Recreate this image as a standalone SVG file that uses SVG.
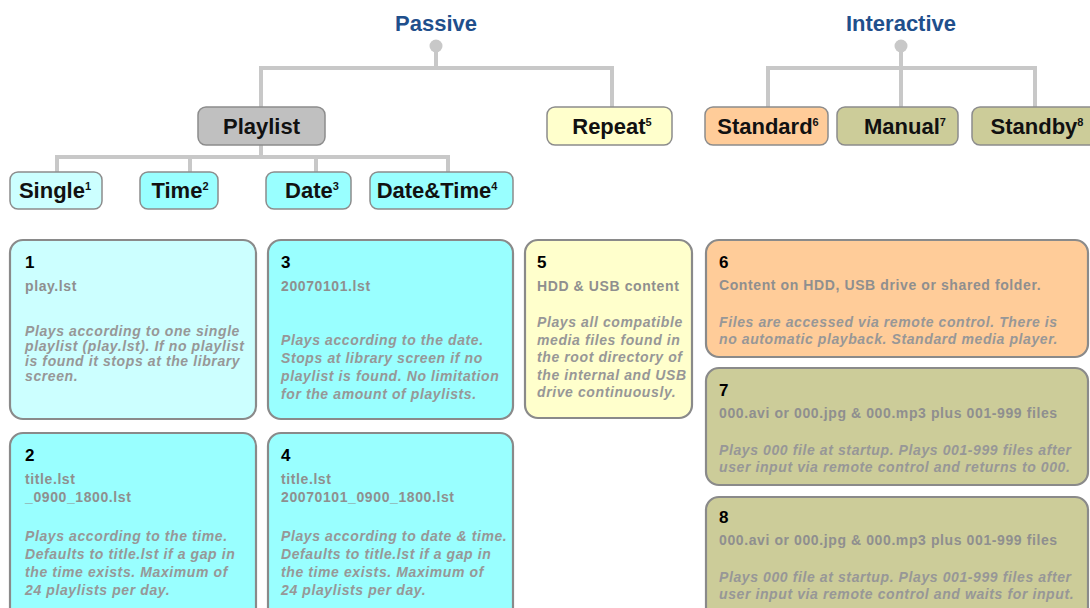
<svg xmlns="http://www.w3.org/2000/svg" width="1090" height="608" viewBox="0 0 1090 608">
<style>
.bg{fill:#ffffff}
.title{font-family:"Liberation Sans",Arial,sans-serif;font-weight:bold;font-size:22px;fill:#1f4f8c;text-anchor:middle}
.lbl{font-family:"Liberation Sans",Arial,sans-serif;font-weight:bold;font-size:22px;fill:#111111;text-anchor:middle}
.sup{font-size:11px}
.conn{stroke:#c8c8c8;stroke-width:4;fill:none}
.dot{fill:#c8c8c8}
.sb{stroke:#8c8c8c;stroke-width:1.5}
.bb{stroke:#8a8a8a;stroke-width:2.2}
.gray{fill:#c0c0c0}
.lc{fill:#ccffff}
.cy{fill:#99ffff}
.ye{fill:#ffffcc}
.or{fill:#ffcc99}
.ol{fill:#cccc99}
.num{font-family:"Liberation Sans",Arial,sans-serif;font-weight:bold;font-size:17px;fill:#000000}
.sub{font-family:"Liberation Sans",Arial,sans-serif;font-weight:bold;font-size:14px;letter-spacing:0.6px;fill:#8f8f8f}
.desc{font-family:"Liberation Sans",Arial,sans-serif;font-weight:bold;font-style:italic;font-size:14px;letter-spacing:0.6px;fill:#979797}
</style>
<rect class="bg" x="0" y="0" width="1090" height="608"/>

<g id="connectors">
  <path class="conn" d="M436,46 V68 M261,68 H612 M261,66 V107 M612,66 V107"/>
  <path class="conn" d="M261,145 V157 M57,157 H448 M57,155 V172 M190,155 V172 M316,155 V172 M448,155 V172"/>
  <path class="conn" d="M901,46 V107 M768,68 H1035 M768,66 V107 M1035,66 V107"/>
  <circle class="dot" cx="436" cy="46" r="6.5"/>
  <circle class="dot" cx="901" cy="46" r="6.5"/>
</g>

<g id="passive"><text class="title" x="436" y="31">Passive</text></g>
<g id="interactive"><text class="title" x="901" y="31">Interactive</text></g>

<g id="playlist"><rect class="gray sb" x="198" y="107" width="127" height="38" rx="8"/><text class="lbl" x="261.5" y="134">Playlist</text></g>
<g id="repeat"><rect class="ye sb" x="547" y="107" width="125" height="38" rx="8"/><text class="lbl" x="612" y="134">Repeat<tspan class="sup" dy="-8">5</tspan></text></g>
<g id="standard"><rect class="or sb" x="705" y="107" width="123" height="38" rx="8"/><text class="lbl" x="768" y="134">Standard<tspan class="sup" dy="-8">6</tspan></text></g>
<g id="manual"><rect class="ol sb" x="837" y="107" width="121" height="38" rx="8"/><text class="lbl" x="905" y="134">Manual<tspan class="sup" dy="-8">7</tspan></text></g>
<g id="standby"><rect class="ol sb" x="972" y="107" width="125" height="38" rx="8"/><text class="lbl" x="1037" y="134">Standby<tspan class="sup" dy="-8">8</tspan></text></g>

<g id="single"><rect class="lc sb" x="10" y="172" width="92" height="37" rx="8"/><text class="lbl" x="55" y="198">Single<tspan class="sup" dy="-8">1</tspan></text></g>
<g id="time"><rect class="cy sb" x="140" y="172" width="78" height="37" rx="8"/><text class="lbl" x="180" y="198">Time<tspan class="sup" dy="-8">2</tspan></text></g>
<g id="date"><rect class="cy sb" x="266" y="172" width="85" height="37" rx="8"/><text class="lbl" x="312" y="198">Date<tspan class="sup" dy="-8">3</tspan></text></g>
<g id="datetime"><rect class="cy sb" x="370" y="172" width="143" height="37" rx="8"/><text class="lbl" x="437" y="198">Date&amp;Time<tspan class="sup" dy="-8">4</tspan></text></g>

<g id="box1">
  <rect class="lc bb" x="10" y="240" width="246" height="179" rx="13"/>
  <text class="num" x="25" y="268">1</text>
  <text class="sub" x="25" y="291">play.lst</text>
  <text class="desc" x="25" y="336">Plays according to one single</text>
  <text class="desc" x="25" y="351">playlist (play.lst). If no playlist</text>
  <text class="desc" x="25" y="366">is found it stops at the library</text>
  <text class="desc" x="25" y="381">screen.</text>
</g>

<g id="box3">
  <rect class="cy bb" x="268" y="240" width="245" height="179" rx="13"/>
  <text class="num" x="281" y="268">3</text>
  <text class="sub" x="281" y="291">20070101.lst</text>
  <text class="desc" x="281" y="345">Plays according to the date.</text>
  <text class="desc" x="281" y="363">Stops at library screen if no</text>
  <text class="desc" x="281" y="381">playlist is found. No limitation</text>
  <text class="desc" x="281" y="399">for the amount of playlists.</text>
</g>

<g id="box5">
  <rect class="ye bb" x="525" y="240" width="167" height="178" rx="13"/>
  <text class="num" x="537" y="268">5</text>
  <text class="sub" x="537" y="291">HDD &amp; USB content</text>
  <text class="desc" x="537" y="327">Plays all compatible</text>
  <text class="desc" x="537" y="344.5">media files found in</text>
  <text class="desc" x="537" y="362">the root directory of</text>
  <text class="desc" x="537" y="379.5">the internal and USB</text>
  <text class="desc" x="537" y="397">drive continuously.</text>
</g>

<g id="box6">
  <rect class="or bb" x="706" y="240" width="382" height="117" rx="13"/>
  <text class="num" x="719" y="268">6</text>
  <text class="sub" x="719" y="290">Content on HDD, USB drive or shared folder.</text>
  <text class="desc" x="719" y="327">Files are accessed via remote control. There is</text>
  <text class="desc" x="719" y="344">no automatic playback. Standard media player.</text>
</g>

<g id="box7">
  <rect class="ol bb" x="706" y="368" width="382" height="117" rx="13"/>
  <text class="num" x="719" y="396">7</text>
  <text class="sub" x="719" y="418">000.avi or 000.jpg &amp; 000.mp3 plus 001-999 files</text>
  <text class="desc" x="719" y="455">Plays 000 file at startup. Plays 001-999 files after</text>
  <text class="desc" x="719" y="472">user input via remote control and returns to 000.</text>
</g>

<g id="box8">
  <rect class="ol bb" x="706" y="497" width="382" height="125" rx="13"/>
  <text class="num" x="719" y="523">8</text>
  <text class="sub" x="719" y="545">000.avi or 000.jpg &amp; 000.mp3 plus 001-999 files</text>
  <text class="desc" x="719" y="582">Plays 000 file at startup. Plays 001-999 files after</text>
  <text class="desc" x="719" y="599">user input via remote control and waits for input.</text>
</g>

<g id="box2">
  <rect class="cy bb" x="10" y="433" width="246" height="190" rx="13"/>
  <text class="num" x="25" y="461">2</text>
  <text class="sub" x="25" y="484">title.lst</text>
  <text class="sub" x="25" y="502">_0900_1800.lst</text>
  <text class="desc" x="25" y="541">Plays according to the time.</text>
  <text class="desc" x="25" y="559">Defaults to title.lst if a gap in</text>
  <text class="desc" x="25" y="577">the time exists. Maximum of</text>
  <text class="desc" x="25" y="595">24 playlists per day.</text>
</g>

<g id="box4">
  <rect class="cy bb" x="268" y="433" width="245" height="190" rx="13"/>
  <text class="num" x="281" y="461">4</text>
  <text class="sub" x="281" y="484">title.lst</text>
  <text class="sub" x="281" y="502">20070101_0900_1800.lst</text>
  <text class="desc" x="281" y="541">Plays according to date &amp; time.</text>
  <text class="desc" x="281" y="559">Defaults to title.lst if a gap in</text>
  <text class="desc" x="281" y="577">the time exists. Maximum of</text>
  <text class="desc" x="281" y="595">24 playlists per day.</text>
</g>
</svg>
